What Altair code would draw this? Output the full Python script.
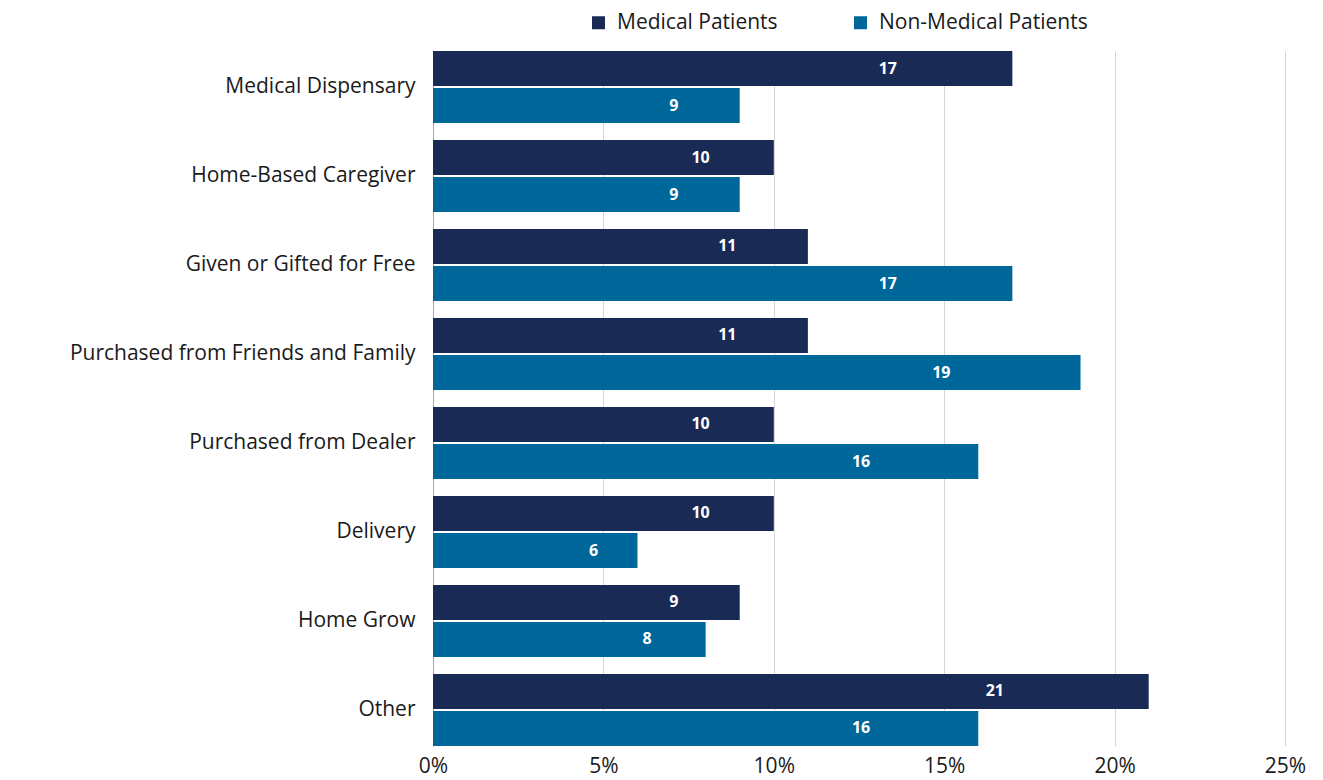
import altair as alt
import pandas as pd

categories = ["Medical Dispensary", "Home-Based Caregiver", "Given or Gifted for Free",
              "Purchased from Friends and Family", "Purchased from Dealer", "Delivery",
              "Home Grow", "Other"]
medical = [17, 10, 11, 11, 10, 10, 9, 21]
non_medical = [9, 9, 17, 19, 16, 6, 8, 16]
series = ["Medical Patients", "Non-Medical Patients"]
colors = ["#192a55", "#00679a"]
x_ticks = [0, 5, 10, 15, 20, 25]

rows = []
for c, m, n in zip(categories, medical, non_medical):
    rows.append({"category": c, "series": series[0], "value": m})
    rows.append({"category": c, "series": series[1], "value": n})
df = pd.DataFrame(rows)

FONT = "Open Sans"

y = alt.Y("category:N", sort=categories,
          scale=alt.Scale(paddingInner=0.19, paddingOuter=0),
          axis=alt.Axis(title=None, labelFontSize=21, labelPadding=18, ticks=False,
                        domain=True, domainColor="#a6a6a6", labelColor="#1a1a1a",
                        labelFont=FONT, labelLimit=0))
yoff = alt.YOffset("series:N", sort=series, scale=alt.Scale(paddingInner=0.054))
x = alt.X("value:Q", scale=alt.Scale(domain=[0, 25], nice=False),
          axis=alt.Axis(title=None, values=x_ticks, labelExpr="datum.value + '%'",
                        labelFontSize=21, labelFont=FONT, labelColor="#1a1a1a",
                        grid=True, gridColor="#d4d4d4", domain=False, ticks=False,
                        labelPadding=9, labelFlush=False))

bars = alt.Chart(df).mark_bar().encode(
    y=y, yOffset=yoff, x=x,
    color=alt.Color("series:N", sort=series,
                    scale=alt.Scale(domain=series, range=colors),
                    legend=alt.Legend(title=None, orient="none", direction="horizontal",
                                      legendX=155, legendY=-39, symbolType="square",
                                      symbolSize=169, symbolStrokeWidth=0,
                                      labelFontSize=21, labelFont=FONT, labelLimit=0,
                                      labelColor="#1a1a1a", columnPadding=72,
                                      symbolOffset=0, labelOffset=8)),
)

labels = alt.Chart(df).transform_calculate(
    pos="datum.value * 0.785"
).mark_text(color="white", fontWeight="bold", fontSize=16, font=FONT,
            baseline="middle", align="center").encode(
    y=y, yOffset=yoff,
    x=alt.X("pos:Q", scale=alt.Scale(domain=[0, 25], nice=False)),
    text=alt.Text("value:Q"),
)

chart = (bars + labels).properties(
    width=852, height=695,
    padding={"top": 4, "left": 61, "right": 5, "bottom": 3},
).configure_view(stroke=None)

chart.save("out.html", embed_options={"renderer": "svg", "actions": False})
